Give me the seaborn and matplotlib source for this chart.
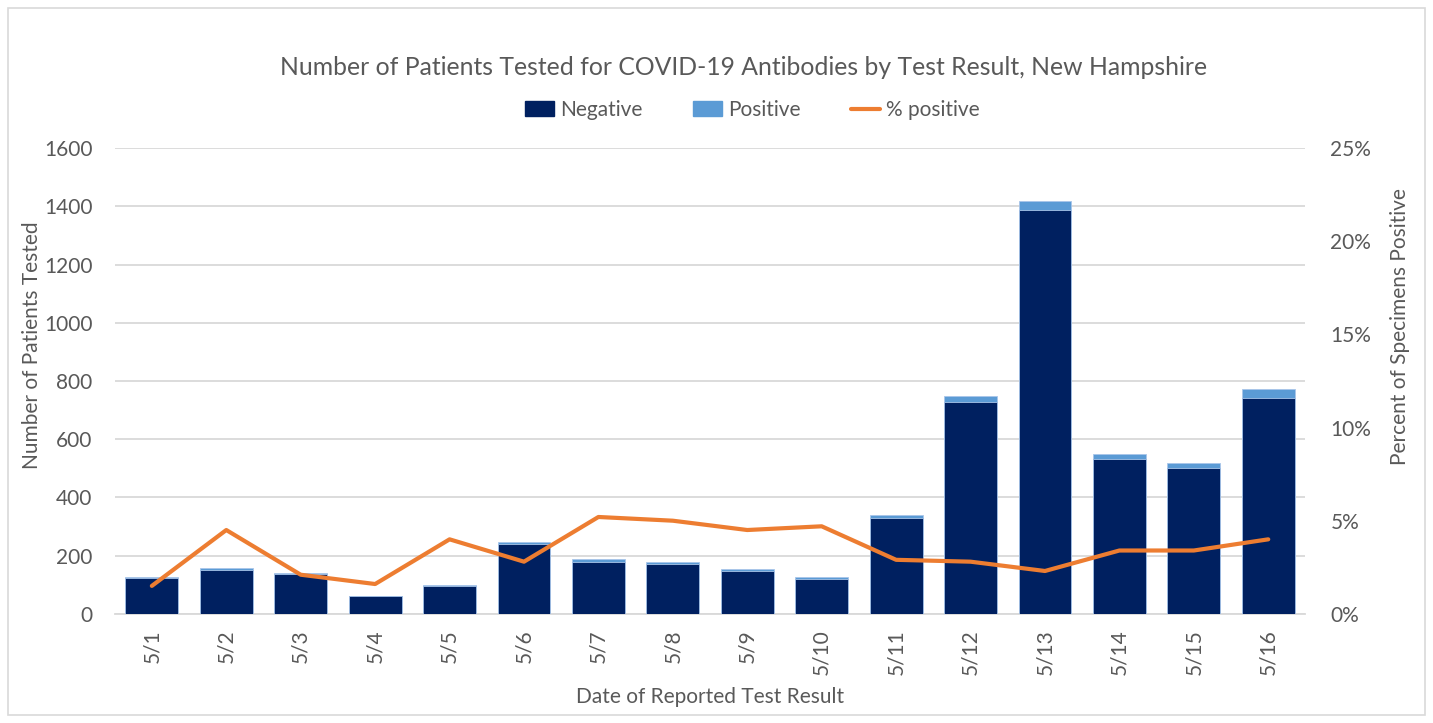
import numpy as np
import pandas as pd
import matplotlib.pyplot as plt
import matplotlib.ticker as mticker
import seaborn as sns
from matplotlib.lines import Line2D
from matplotlib.patches import Patch, Rectangle

# ── Data ────────────────────────────────────────────────────────────────────

dates = ["5/1", "5/2", "5/3", "5/4", "5/5", "5/6", "5/7", "5/8",
         "5/9", "5/10", "5/11", "5/12", "5/13", "5/14", "5/15", "5/16"]
negative = [124, 150, 137, 61, 94, 241, 179, 170,
            148, 121, 328, 729, 1386, 532, 502, 743]
positive = [2, 7, 3, 1, 4, 7, 10, 9,
            7, 6, 10, 21, 32, 18, 18, 31]
pct_positive = [1.5, 4.5, 2.1, 1.6, 4.0, 2.8, 5.2, 5.0,
                4.5, 4.7, 2.9, 2.8, 2.3, 3.4, 3.4, 4.0]

NAVY = "#002060"
LIGHT = "#5b9bd5"
ORANGE = "#ed7d31"
TEXT = "#595959"
GRID = "#d9d9d9"
FS = 15

df = pd.DataFrame({"date": dates, "negative": negative,
                   "positive": positive, "pct": pct_positive})
df["total"] = df["negative"] + df["positive"]

# ── Plot ────────────────────────────────────────────────────────────────────

sns.set_style("white")
plt.rcParams["font.family"] = ["Lato", "DejaVu Sans"]

fig = plt.figure(figsize=(14.33, 7.23), dpi=100)
ax = fig.add_axes([0.080, 0.151, 0.831, 0.644])

# stacked look: total in light blue, negative drawn over it
sns.barplot(data=df, x="date", y="total", color=LIGHT, saturation=1,
            width=0.71, ax=ax, zorder=2, edgecolor="#a9c6ea", linewidth=0.6)
sns.barplot(data=df, x="date", y="negative", color=NAVY, saturation=1,
            width=0.71, ax=ax, zorder=3, edgecolor="#a9c6ea", linewidth=0.6)

ax.set_ylim(0, 1600)
ax.set_xlim(-0.5, len(dates) - 0.5)
ax.yaxis.set_major_locator(mticker.MultipleLocator(200))
ax.yaxis.grid(True, color=GRID, linewidth=1.3, zorder=0)
ax.set_axisbelow(True)
for s in ["top", "right", "left"]:
    ax.spines[s].set_visible(False)
ax.spines["bottom"].set_color(GRID)
ax.spines["bottom"].set_linewidth(1.3)
ax.tick_params(axis="both", length=0, labelsize=FS, colors=TEXT)
ax.tick_params(axis="y", pad=16)
ax.tick_params(axis="x", pad=11)
plt.setp(ax.get_xticklabels(), rotation=90)
ax.set_xlabel("Date of Reported Test Result", fontsize=FS, color=TEXT, labelpad=9)
ax.set_ylabel("Number of Patients Tested", fontsize=FS, color=TEXT)
ax.yaxis.set_label_coords(-0.061, 0.577)

ax2 = ax.twinx()
sns.lineplot(data=df, x="date", y="pct", color=ORANGE, linewidth=3.0,
             ax=ax2, sort=False, zorder=4)
ax2.set_ylim(0, 25)
ax2.yaxis.set_major_locator(mticker.MultipleLocator(5))
ax2.yaxis.set_major_formatter(mticker.PercentFormatter(decimals=0))
for s in ax2.spines.values():
    s.set_visible(False)
ax2.tick_params(axis="y", length=0, labelsize=FS, colors=TEXT, pad=18)
ax2.set_ylabel("Percent of Specimens Positive", fontsize=FS, color=TEXT)
ax2.yaxis.set_label_coords(1.071, 0.618)
ax2.set_xlabel("")

fig.text(0.519, 0.907,
         "Number of Patients Tested for COVID-19 Antibodies by Test Result, New Hampshire",
         ha="center", va="center", fontsize=17.8, color=TEXT)

handles = [Patch(color=NAVY, label="Negative"),
           Patch(color=LIGHT, label="Positive"),
           Line2D([], [], color=ORANGE, linewidth=3.0, label="% positive")]
fig.legend(handles=handles, loc="center", bbox_to_anchor=(0.525, 0.848), ncol=3,
           frameon=False, fontsize=FS, labelcolor=TEXT, handlelength=1.4,
           handletextpad=0.3, columnspacing=2.4)

# chart area border
fig.patches.append(Rectangle((8 / 1433, 8 / 723), 1 - 16 / 1433, 1 - 16 / 723,
                             transform=fig.transFigure, fill=False,
                             edgecolor=GRID, linewidth=1.2))

fig.savefig("out.png", dpi=100)
